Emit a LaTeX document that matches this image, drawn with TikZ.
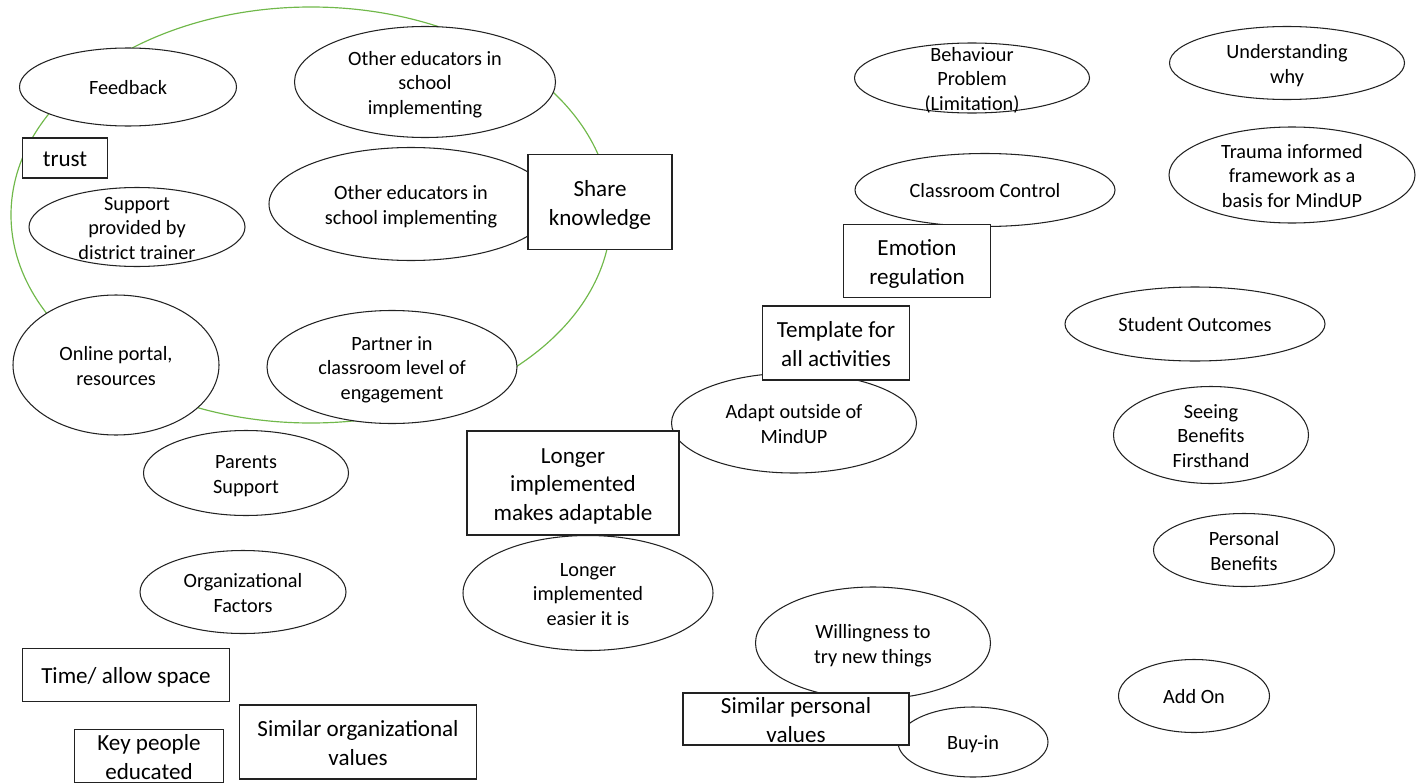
\documentclass[tikz,border=0pt]{standalone}
\usepackage{fontspec}
\setmainfont{Carlito}
\usetikzlibrary{shapes.geometric}
\definecolor{vert}{HTML}{70B84A}
\definecolor{trait}{HTML}{222222}
\newcommand{\tx}[1]{\makebox[0pt]{\raisebox{-0.4em}[0pt][0pt]{\begin{tabular}{@{}c@{}}#1\end{tabular}}}}
\tikzset{
  oval/.style 2 args={ellipse,draw=trait,fill=white,inner sep=0pt,line width=0.9pt,
    minimum width=#1*0.03cm,minimum height=#2*0.03cm,font=\fontsize{17.3}{21}\selectfont},
  tag/.style 2 args={rectangle,draw=trait,fill=white,inner sep=0pt,line width=0.9pt,
    minimum width=#1*0.03cm,minimum height=#2*0.03cm,font=\fontsize{19.7}{24.3}\selectfont},
}

\begin{document}
\begin{tikzpicture}[x=0.03cm,y=-0.03cm]
  \useasboundingbox (0,0) rectangle (1421,784);
  % green cluster
  \draw[vert,line width=1pt] (311,215) ellipse [x radius=300,y radius=208];
  % ellipses
  \foreach \n/\x/\y/\w/\h/\t in {
    feedback/128/87/217/78/{Feedback},
    educA/425/82/261/111/{Other educators in\\school\\implementing},
    support/137/227/216/79/{Support\\provided by\\district trainer},
    educB/411/204/284/113/{Other educators in\\school implementing},
    portal/116/365/206/140/{Online portal,\\resources},
    partner/392/367/250/113/{Partner in\\classroom level of\\engagement},
    parents/246/473/205/85/{Parents\\Support},
    orgfac/243/592/206/83/{Organizational\\Factors},
    easier/588/593/250/115/{Longer\\implemented\\easier it is},
    adapt/794/423/245/100/{Adapt outside of\\MindUP},
    behaviour/972/78/235/70/{Behaviour\\Problem\\(Limitation)},
    control/985/190/260/73/{Classroom Control},
    understand/1287/63/235/73/{Understanding\\why},
    trauma/1292/175/246/96/{Trauma informed\\framework as a\\basis for MindUP},
    outcomes/1195/324/260/74/{Student Outcomes},
    seeing/1211/435/195/97/{Seeing\\Benefits\\Firsthand},
    personal/1244/550/181/73/{Personal\\Benefits},
    willing/873/643/235/112/{Willingness to\\try new things},
    addon/1194/696/151/73/{Add On},
    buyin/973/742/150/70/{Buy-in}}
    \node[oval={\w}{\h}] (\n) at (\x,\y) {\tx{\t}};
  % boxes
  \foreach \n/\x/\y/\w/\h/\t in {
    trust/65/158/85/40/{trust},
    share/600/202/144/95/{Share\\knowledge},
    timebox/126/675/207/53/{Time/ allow space},
    keypeople/149/756/149/53/{Key people\\educated},
    simorg/358/742/237/74/{Similar organizational\\values},
    longer/573/483/212/104/{Longer\\implemented\\makes adaptable},
    template/836/343/147/74/{Template for\\all activities},
    emotion/917/261/147/73/{Emotion\\regulation},
    simpers/796/719/226/52/{Similar personal\\values}}
    \node[tag={\w}{\h}] (\n) at (\x,\y) {\tx{\t}};
\end{tikzpicture}
\end{document}
